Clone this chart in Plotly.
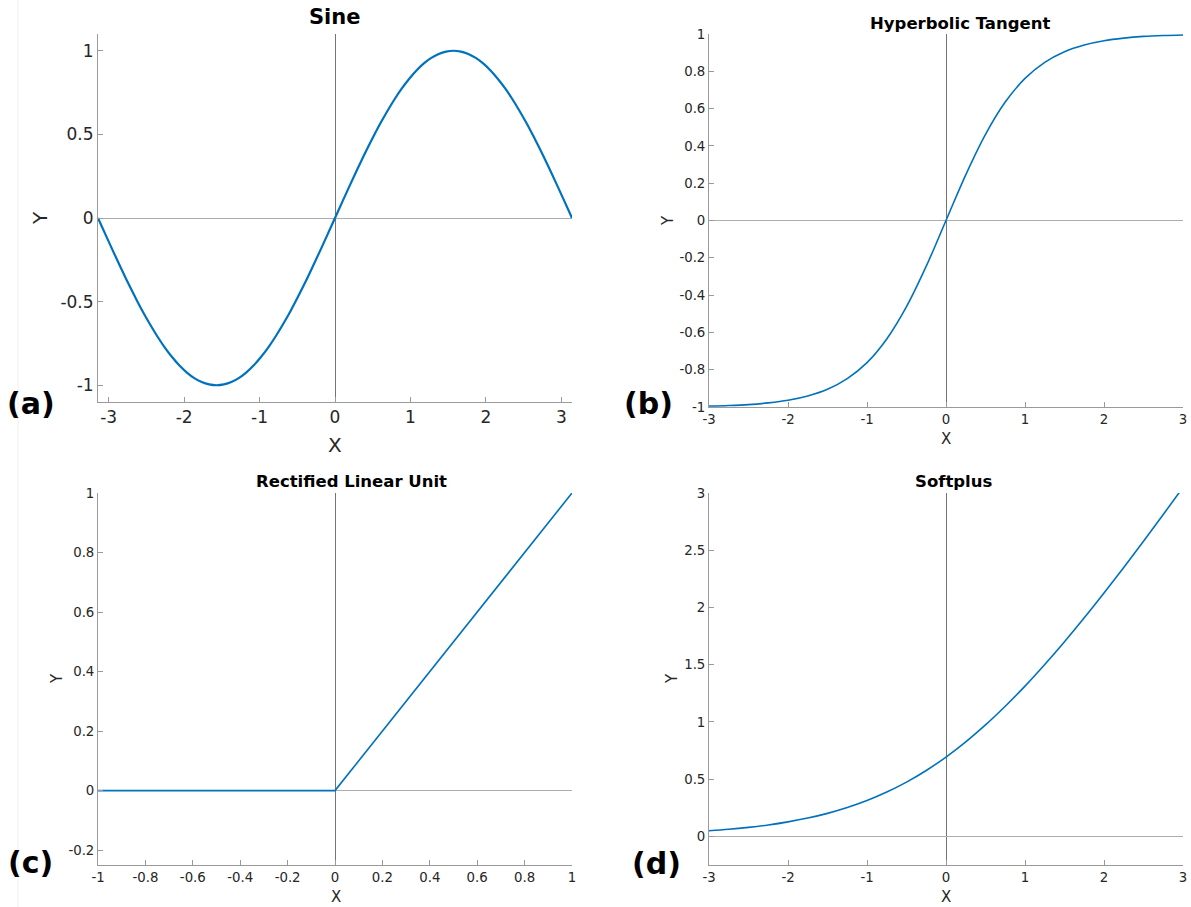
import plotly.graph_objects as go

# ---------------- data ----------------
sine_x = [-3.1416, -3.0434, -2.9452, -2.8471, -2.7489, -2.6507, -2.5525, -2.4544, -2.3562,
          -2.2580, -2.1598, -2.0617, -1.9635, -1.8653, -1.7671, -1.6690, -1.5708,
          -1.4726, -1.3744, -1.2763, -1.1781, -1.0799, -0.9817, -0.8836, -0.7854,
          -0.6872, -0.5890, -0.4909, -0.3927, -0.2945, -0.1963, -0.0982, 0.0,
          0.0982, 0.1963, 0.2945, 0.3927, 0.4909, 0.5890, 0.6872, 0.7854,
          0.8836, 0.9817, 1.0799, 1.1781, 1.2763, 1.3744, 1.4726, 1.5708,
          1.6690, 1.7671, 1.8653, 1.9635, 2.0617, 2.1598, 2.2580, 2.3562,
          2.4544, 2.5525, 2.6507, 2.7489, 2.8471, 2.9452, 3.0434, 3.1416]
sine_y = [0.0, -0.098, -0.195, -0.290, -0.383, -0.471, -0.556, -0.634, -0.707,
          -0.773, -0.831, -0.882, -0.924, -0.957, -0.981, -0.995, -1.0,
          -0.995, -0.981, -0.957, -0.924, -0.882, -0.831, -0.773, -0.707,
          -0.634, -0.556, -0.471, -0.383, -0.290, -0.195, -0.098, 0.0,
          0.098, 0.195, 0.290, 0.383, 0.471, 0.556, 0.634, 0.707,
          0.773, 0.831, 0.882, 0.924, 0.957, 0.981, 0.995, 1.0,
          0.995, 0.981, 0.957, 0.924, 0.882, 0.831, 0.773, 0.707,
          0.634, 0.556, 0.471, 0.383, 0.290, 0.195, 0.098, 0.0]

tanh_x = [-3.0, -2.75, -2.5, -2.25, -2.0, -1.75, -1.5, -1.25, -1.0, -0.75, -0.5, -0.25, 0.0,
          0.25, 0.5, 0.75, 1.0, 1.25, 1.5, 1.75, 2.0, 2.25, 2.5, 2.75, 3.0]
tanh_y = [-0.995, -0.992, -0.987, -0.978, -0.964, -0.941, -0.905, -0.848, -0.762, -0.635, -0.462, -0.245, 0.0,
          0.245, 0.462, 0.635, 0.762, 0.848, 0.905, 0.941, 0.964, 0.978, 0.987, 0.992, 0.995]

relu_x = [-1.0, 0.0, 1.0]
relu_y = [0.0, 0.0, 1.0]

softplus_x = [-3.0, -2.75, -2.5, -2.25, -2.0, -1.75, -1.5, -1.25, -1.0, -0.75, -0.5, -0.25, 0.0,
              0.25, 0.5, 0.75, 1.0, 1.25, 1.5, 1.75, 2.0, 2.25, 2.5, 2.75, 3.0]
softplus_y = [0.049, 0.062, 0.079, 0.100, 0.127, 0.160, 0.201, 0.252, 0.313, 0.387, 0.474, 0.576, 0.693,
              0.826, 0.974, 1.137, 1.313, 1.502, 1.701, 1.910, 2.127, 2.350, 2.579, 2.812, 3.049]

titles = ["Sine", "Hyperbolic Tangent", "Rectified Linear Unit", "Softplus"]
panel_tags = ["(a)", "(b)", "(c)", "(d)"]

sine_xticks = [-3, -2, -1, 0, 1, 2, 3]
sine_yticks = [-1, -0.5, 0, 0.5, 1]
tanh_xticks = [-3, -2, -1, 0, 1, 2, 3]
tanh_yticks = [-1, -0.8, -0.6, -0.4, -0.2, 0, 0.2, 0.4, 0.6, 0.8, 1]
relu_xticks = [-1, -0.8, -0.6, -0.4, -0.2, 0, 0.2, 0.4, 0.6, 0.8, 1]
relu_yticks = [-0.2, 0, 0.2, 0.4, 0.6, 0.8, 1]
soft_xticks = [-3, -2, -1, 0, 1, 2, 3]
soft_yticks = [0, 0.5, 1, 1.5, 2, 2.5, 3]

# ---------------- figure ----------------
W, H = 1191, 907
FONT = "DejaVu Sans"
LINE = "#0072BD"
AX = "#9a9a9a"
TXT = "#262626"

def fx(px):
    return px / W

def fy(py):
    return 1 - py / H

panels = [
    dict(x=sine_x, y=sine_y, xr=[-3.1416, 3.1416], yr=[-1.1, 1.1], xt=sine_xticks, yt=sine_yticks,
         dom_x=[fx(98), fx(572)], dom_y=[fy(402), fy(34)], fs=17, lw=2.2, shape="spline"),
    dict(x=tanh_x, y=tanh_y, xr=[-3, 3], yr=[-1, 1], xt=tanh_xticks, yt=tanh_yticks,
         dom_x=[fx(709), fx(1183)], dom_y=[fy(407), fy(34)], fs=13.3, lw=1.6, shape="spline"),
    dict(x=relu_x, y=relu_y, xr=[-1, 1], yr=[-0.25, 1], xt=relu_xticks, yt=relu_yticks,
         dom_x=[fx(98), fx(572)], dom_y=[fy(865), fy(493)], fs=13.3, lw=1.6, shape="linear"),
    dict(x=softplus_x, y=softplus_y, xr=[-3, 3], yr=[-0.25, 3], xt=soft_xticks, yt=soft_yticks,
         dom_x=[fx(709), fx(1183)], dom_y=[fy(865), fy(493)], fs=13.3, lw=1.6, shape="spline"),
]

fig = go.Figure()
layout = dict(width=W, height=H, margin=dict(l=0, r=0, t=0, b=0, autoexpand=False),
              paper_bgcolor="white", plot_bgcolor="white", showlegend=False,
              font=dict(family=FONT, color=TXT))

def fmt(v):
    return "%g" % v

for i, p in enumerate(panels):
    n = "" if i == 0 else str(i + 1)
    fig.add_trace(go.Scatter(x=p["x"], y=p["y"], mode="lines",
                             line=dict(color=LINE, width=p["lw"], shape=p["shape"], smoothing=1.0),
                             xaxis="x" + n, yaxis="y" + n, hoverinfo="skip"))
    common = dict(showgrid=False, zeroline=True, zerolinewidth=1,
                  showline=True, linecolor=AX, linewidth=1, ticks="inside", ticklen=5,
                  tickcolor=AX, tickfont=dict(size=p["fs"], color=TXT, family=FONT),
                  mirror=False, fixedrange=True, automargin=False)
    layout["xaxis" + n] = dict(common, domain=p["dom_x"], range=p["xr"], tickvals=p["xt"],
                               ticktext=[fmt(v) for v in p["xt"]], anchor="y" + n,
                               zerolinecolor="#747474")
    layout["yaxis" + n] = dict(common, domain=p["dom_y"], range=p["yr"], tickvals=p["yt"],
                               ticktext=[fmt(v) for v in p["yt"]], anchor="x" + n,
                               zerolinecolor="#adadad")

fig.update_layout(**layout)

# titles, axis labels, panel tags
title_pos = [(335, 17, 21), (960, 23, 16.5), (351, 481, 16.5), (953, 481, 16.5)]
xlab_pos = [(335, 445, 20), (946, 439, 15), (336, 897, 15), (946, 897, 15)]
ylab_pos = [(40, 218, 20), (668, 221, 15), (57, 679, 15), (672, 679, 15)]
tag_pos = [(31, 403), (648, 403), (31, 862), (657, 863)]

for i in range(4):
    tx, ty, ts = title_pos[i]
    fig.add_annotation(x=fx(tx), y=fy(ty), xref="paper", yref="paper", text="<b>%s</b>" % titles[i],
                       showarrow=False, font=dict(size=ts, color="black", family=FONT),
                       xanchor="center", yanchor="middle")
    lx, ly, ls = xlab_pos[i]
    fig.add_annotation(x=fx(lx), y=fy(ly), xref="paper", yref="paper", text="X",
                       showarrow=False, font=dict(size=ls, color=TXT, family=FONT),
                       xanchor="center", yanchor="middle")
    yx, yy, ys = ylab_pos[i]
    fig.add_annotation(x=fx(yx), y=fy(yy), xref="paper", yref="paper", text="Y", textangle=-90,
                       showarrow=False, font=dict(size=ys, color=TXT, family=FONT),
                       xanchor="center", yanchor="middle")
    gx, gy = tag_pos[i]
    fig.add_annotation(x=fx(gx), y=fy(gy), xref="paper", yref="paper", text="<b>%s</b>" % panel_tags[i],
                       showarrow=False, font=dict(size=30, color="black", family=FONT),
                       xanchor="center", yanchor="middle")

# faint border line at left edge of the original image
fig.add_shape(type="line", xref="paper", yref="paper", x0=fx(18), x1=fx(18), y0=0, y1=1,
              line=dict(color="#efefef", width=1))

fig.write_html("out.html")
